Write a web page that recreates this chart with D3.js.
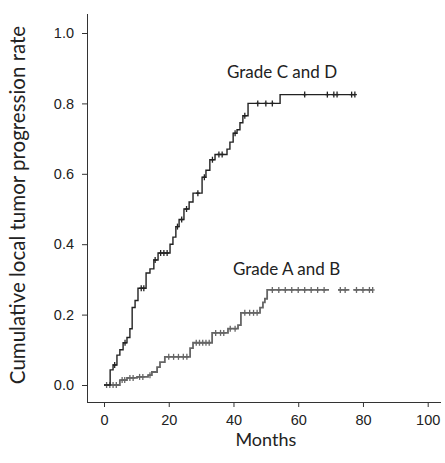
<!DOCTYPE html>
<html>
<head>
<meta charset="utf-8">
<script src="https://cdn.jsdelivr.net/npm/d3@7"></script>
<style>
  body { margin: 0; background: #fff; }
  svg { display: block; }
</style>
</head>
<body>
<div id="chart"></div>
<script>
// Grade C and D curve (months, cumulative rate)
const cdMonths = [0, 1.9, 2.8, 4.0, 4.9, 5.9, 7.1, 8.0, 8.7, 9.6, 10.5, 13.0, 14.2, 15.4, 16.7, 20.4, 21.3, 22.2, 23.2, 24.7, 26.3, 27.5, 30.3, 31.5, 32.7, 34.3, 38.0, 38.9, 39.9, 41.1, 42.0, 42.9, 44.5, 54.4, 77.5];
const cdRate = [0, 0.043, 0.057, 0.085, 0.10, 0.12, 0.135, 0.16, 0.22, 0.24, 0.275, 0.318, 0.33, 0.355, 0.375, 0.40, 0.42, 0.45, 0.47, 0.50, 0.52, 0.545, 0.59, 0.61, 0.64, 0.655, 0.67, 0.69, 0.715, 0.725, 0.745, 0.765, 0.80, 0.825, 0.825];
const cdCensored = [3.3, 6.5, 11.5, 12.3, 15.8, 17.5, 18.5, 19.5, 22.7, 24, 25.5, 29, 31, 33.5, 35.5, 36.5, 40.5, 43.5, 47.5, 50, 52, 62, 69, 71, 72, 76.5, 77.5];

// Grade A and B curve
const abMonths = [0, 4.9, 7.1, 10.2, 13.6, 14.8, 16.4, 17.3, 18.8, 26.6, 27.5, 33.4, 38.3, 41.4, 42.3, 48.2, 49.1, 49.7, 50.4, 83];
const abRate = [0, 0.014, 0.02, 0.023, 0.028, 0.037, 0.051, 0.065, 0.08, 0.105, 0.12, 0.148, 0.16, 0.17, 0.205, 0.22, 0.235, 0.245, 0.27, 0.27];
const abCensored = [0.8, 1.8, 2.8, 3.8, 5.6, 6.4, 8, 9, 11, 12, 14.2, 20, 21.5, 23, 24.5, 25.6, 28.5, 29.5, 30.5, 31.5, 32.5, 34.5, 36, 37, 39, 40.5, 43.5, 45, 46.2, 47.3, 52, 54, 56, 58, 60, 62, 64, 66, 68, 73, 74.5, 78, 80, 82, 83];
// short breaks seen in the tail of the A/B line (months)
const abGaps = [[69.5, 72.3], [75.8, 77]];

const xTicks = [0, 20, 40, 60, 80, 100];
const yTicks = [0, 0.2, 0.4, 0.6, 0.8, 1.0];

const W = 445, H = 463;
const svg = d3.select("#chart").append("svg")
  .attr("width", W).attr("height", H);

const x = d3.scaleLinear().domain([0, 100]).range([104, 427.7]);
const y = d3.scaleLinear().domain([0, 1]).range([385, 33]);

const axisX = 87, axisY = 402;

// axes
const xAxis = svg.append("g")
  .attr("transform", `translate(0,${axisY})`)
  .call(d3.axisBottom(x).tickValues(xTicks).tickSize(5).tickPadding(5).tickFormat(d3.format("d")));
xAxis.select(".domain").attr("d", `M${axisX},0.5H${W - 4}`);

const yAxis = svg.append("g")
  .attr("transform", `translate(${axisX},0)`)
  .call(d3.axisLeft(y).tickValues(yTicks).tickSize(5).tickPadding(8).tickFormat(d3.format(".1f")));
yAxis.select(".domain").attr("d", `M0.5,14V${axisY}`);

svg.selectAll(".tick text")
  .attr("font-family", "'Liberation Sans', Arial, sans-serif")
  .attr("font-size", 14.5)
  .attr("fill", "#222");
svg.selectAll(".domain, .tick line").attr("stroke", "#333");
xAxis.selectAll(".tick text").attr("dy", "0.9em");

// titles
svg.append("text")
  .attr("transform", `translate(25,${(14 + 396) / 2}) rotate(-90)`)
  .attr("text-anchor", "middle")
  .attr("font-family", "Lato, 'Open Sans', sans-serif")
  .attr("font-size", 20.5)
  .attr("fill", "#222")
  .text("Cumulative local tumor progression rate");

svg.append("text")
  .attr("x", (x(40) + x(60)) / 2).attr("y", 446)
  .attr("text-anchor", "middle")
  .attr("font-family", "Lato, 'Open Sans', sans-serif")
  .attr("font-size", 18)
  .attr("fill", "#222")
  .text("Months");

// step curves
const line = d3.line()
  .x(d => x(d[0]))
  .y(d => y(d[1]))
  .curve(d3.curveStepAfter);

function stepValue(months, rate, t) {
  const i = d3.bisectRight(months, t) - 1;
  return rate[Math.max(0, i)];
}

function drawCurve(months, rate, censored, color, width) {
  const pts = months.map((m, i) => [m, rate[i]]);
  svg.append("path")
    .datum(pts)
    .attr("fill", "none")
    .attr("stroke", color)
    .attr("stroke-width", width)
    .attr("d", line);

  const g = svg.append("g").attr("stroke", color).attr("stroke-width", 1.3);
  censored.forEach(t => {
    const cx = x(t), cy = y(stepValue(months, rate, t));
    g.append("line").attr("x1", cx).attr("x2", cx).attr("y1", cy - 3).attr("y2", cy + 3);
    g.append("line").attr("x1", cx - 2).attr("x2", cx + 2).attr("y1", cy).attr("y2", cy);
  });
}

drawCurve(abMonths, abRate, abCensored, "#666", 1.8);
// blank out the small breaks in the A/B tail
abGaps.forEach(([a, b]) => {
  const v = stepValue(abMonths, abRate, a);
  svg.append("line")
    .attr("x1", x(a)).attr("x2", x(b))
    .attr("y1", y(v)).attr("y2", y(v))
    .attr("stroke", "#fff").attr("stroke-width", 4);
});
drawCurve(cdMonths, cdRate, cdCensored, "#222", 1.4);

// curve labels
svg.append("text")
  .attr("x", 227).attr("y", 78)
  .attr("font-family", "Lato, 'Open Sans', sans-serif")
  .attr("font-size", 17)
  .attr("fill", "#222")
  .text("Grade C and D");

svg.append("text")
  .attr("x", 233).attr("y", 275)
  .attr("font-family", "Lato, 'Open Sans', sans-serif")
  .attr("font-size", 17)
  .attr("fill", "#222")
  .text("Grade A and B");
</script>
</body>
</html>
